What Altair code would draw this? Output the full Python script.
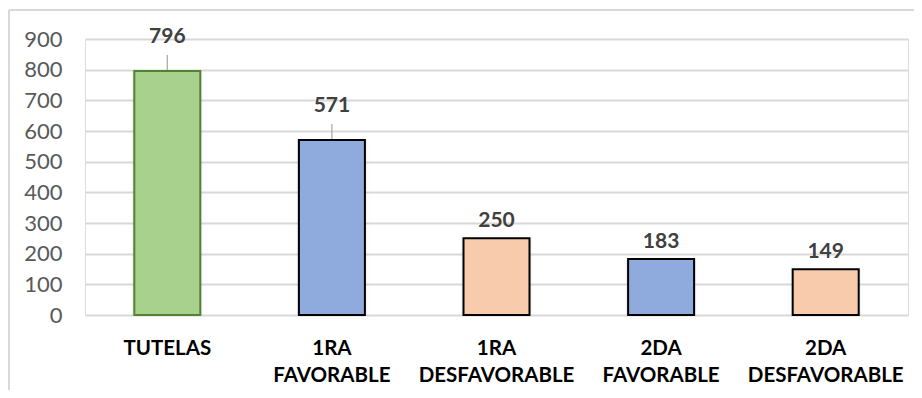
import altair as alt
import pandas as pd

categories = ["TUTELAS", "1RA FAVORABLE", "1RA DESFAVORABLE", "2DA FAVORABLE", "2DA DESFAVORABLE"]
label_lines = [["TUTELAS"], ["1RA", "FAVORABLE"], ["1RA", "DESFAVORABLE"], ["2DA", "FAVORABLE"], ["2DA", "DESFAVORABLE"]]
values = [796, 571, 250, 183, 149]
groups = ["total", "favorable", "desfavorable", "favorable", "desfavorable"]
has_leader = [True, True, False, False, False]

fill_map = {"total": "#a9d18e", "favorable": "#8faadc", "desfavorable": "#f8cbad"}
stroke_map = {"total": "#548235", "favorable": "#000000", "desfavorable": "#000000"}

df = pd.DataFrame({
    "cat": categories,
    "value": values,
    "group": groups,
    "leader": has_leader,
})

FONT = "Lato"
W, H = 823, 276

label_expr = "{" + ", ".join(
    f"'{c}': [" + ", ".join(f"'{p}'" for p in lines) + "]" for c, lines in zip(categories, label_lines)
) + "}[datum.value]"

x = alt.X("cat:N", sort=categories, title=None,
          scale=alt.Scale(paddingInner=0.6, paddingOuter=0.3),
          axis=alt.Axis(labelExpr=label_expr, labelAngle=0, labelFont=FONT, labelFontSize=20.5,
                        labelFontWeight="bold", labelColor="#000000", labelPadding=23,
                        labelLineHeight=27, domain=False, ticks=False, grid=False))
y = alt.Y("value:Q", title=None,
          scale=alt.Scale(domain=[0, 900], nice=False),
          axis=alt.Axis(values=list(range(0, 1000, 100)), labelFont=FONT, labelFontSize=22,
                        labelColor="#595959", labelPadding=23, domain=False, ticks=False,
                        gridColor="#d9d9d9", gridWidth=2))

color = alt.Color("group:N", scale=alt.Scale(domain=list(fill_map), range=list(fill_map.values())), legend=None)
stroke = alt.Stroke("group:N", scale=alt.Scale(domain=list(stroke_map), range=list(stroke_map.values())), legend=None)

base = alt.Chart(df)

shadow = base.mark_bar(size=70, color="#000000", opacity=0.06, stroke="#000000", strokeOpacity=0.05,
                       strokeWidth=6).encode(x=x, y=y)

bars = base.mark_bar(size=66, strokeWidth=2).encode(x=x, y=y, color=color, stroke=stroke)

lead_rules = base.transform_filter("datum.leader").mark_rule(
    color="#a6a6a6", strokeWidth=1.2, yOffset=-1, y2Offset=-16
).encode(x=x, y=y, y2=alt.Y2("value:Q"))

text_lead = base.transform_filter("datum.leader").mark_text(
    font=FONT, fontSize=21, fontWeight="bold", color="#404040", dy=-34
).encode(x=x, y=y, text="value:Q")

text_plain = base.transform_filter("!datum.leader").mark_text(
    font=FONT, fontSize=21, fontWeight="bold", color="#404040", dy=-17
).encode(x=x, y=y, text="value:Q")

frame_top = alt.Chart(df.head(1)).mark_rule(color="#d9d9d9", strokeWidth=2).encode(
    x=alt.value(-76), x2=alt.value(W + 14), y=alt.value(-29))
frame_left = alt.Chart(df.head(1)).mark_rule(color="#d9d9d9", strokeWidth=2).encode(
    x=alt.value(-76), y=alt.value(-29), y2=alt.value(H + 80))

chart = alt.layer(shadow, bars, lead_rules, text_lead, text_plain, frame_top, frame_left).properties(
    width=W, height=H,
    autosize=alt.AutoSizeParams(type="none"),
    padding={"left": 77, "top": 31, "right": 6, "bottom": 75},
).configure_view(stroke=None).configure(background="#ffffff")

chart.save("out.html", embed_options={"renderer": "svg", "actions": False})
